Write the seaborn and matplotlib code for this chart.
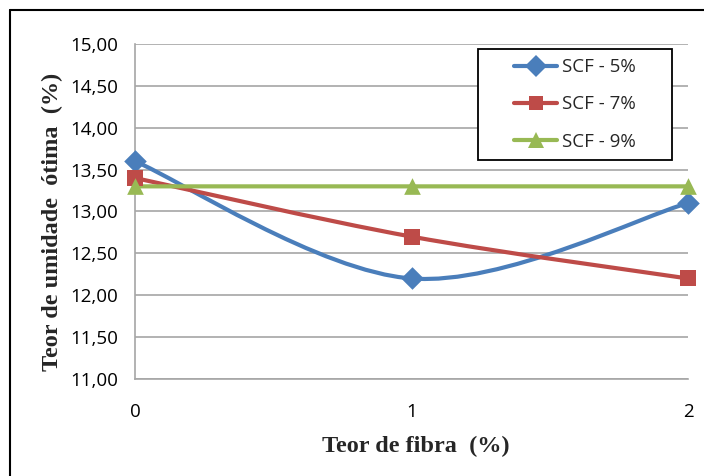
import numpy as np
import pandas as pd
import matplotlib
matplotlib.use("Agg")
import matplotlib.pyplot as plt
from matplotlib.path import Path
from matplotlib.patches import PathPatch, Rectangle
from matplotlib.lines import Line2D
import seaborn as sns

# ---- data ----
fibra = [0, 1, 2]
series_names = ["SCF - 5%", "SCF - 7%", "SCF - 9%"]
scf5 = [13.6, 12.2, 13.1]
scf7 = [13.4, 12.7, 12.2]
scf9 = [13.3, 13.3, 13.3]
y_ticks = [11.0, 11.5, 12.0, 12.5, 13.0, 13.5, 14.0, 14.5, 15.0]
y_ticklabels = ["11,00", "11,50", "12,00", "12,50", "13,00", "13,50", "14,00", "14,50", "15,00"]
x_ticks = [0, 1, 2]

colors = ["#4A7EBB", "#BE4B48", "#98B954"]
markers = ["D", "s", "^"]
msizes = [11.5, 11, 12]

df = pd.DataFrame({
    "fibra": fibra * 3,
    "teor": scf5 + scf7 + scf9,
    "serie": [n for n in series_names for _ in fibra],
})

sns.set_style("white")
plt.rcParams["font.family"] = ["Open Sans", "DejaVu Sans"]

fig = plt.figure(figsize=(7.04, 4.76), dpi=100)
ax = fig.add_axes([0.1918, 0.2038, 0.7855, 0.7038])


def smooth_path(xs, ys):
    pts = np.column_stack([xs, ys]).astype(float)
    n = len(pts)
    verts = [pts[0]]
    codes = [Path.MOVETO]
    for i in range(n - 1):
        p_prev = pts[i - 1] if i > 0 else pts[i]
        p_next2 = pts[i + 2] if i + 2 < n else pts[i + 1]
        c1 = pts[i] + (pts[i + 1] - p_prev) / 6.0
        c2 = pts[i + 1] - (p_next2 - pts[i]) / 6.0
        verts += [c1, c2, pts[i + 1]]
        codes += [Path.CURVE4] * 3
    return Path(verts, codes)


for name, col in zip(series_names, colors):
    sub = df[df["serie"] == name]
    patch = PathPatch(smooth_path(sub["fibra"].values, sub["teor"].values),
                      facecolor="none", edgecolor=col, lw=3.0,
                      capstyle="round", joinstyle="round", zorder=3,
                      clip_on=False)
    ax.add_patch(patch)

for name, col, mk, ms in zip(series_names, colors, markers, msizes):
    sub = df[df["serie"] == name]
    sns.scatterplot(data=sub, x="fibra", y="teor", marker=mk, color=col,
                    s=ms ** 2, edgecolor=col, linewidth=0, ax=ax, zorder=4,
                    clip_on=False, legend=False)

ax.set_xlim(0, 2)
ax.set_ylim(11, 15)
ax.set_yticks(y_ticks)
ax.set_yticklabels(y_ticklabels)
ax.set_xticks(x_ticks)
ax.set_xticklabels([str(v) for v in x_ticks])
ax.tick_params(axis="both", length=0, labelsize=13.5, colors="black")
ax.tick_params(axis="y", pad=12)
ax.tick_params(axis="x", pad=17)

ax.grid(axis="y", color="#A6A6A6", lw=1.2)
ax.grid(axis="x", visible=False)
ax.set_axisbelow(True)
for s in ["top", "right"]:
    ax.spines[s].set_visible(False)
for s in ["left", "bottom"]:
    ax.spines[s].set_color("#A6A6A6")
    ax.spines[s].set_linewidth(1.2)

ax.set_xlabel("Teor de fibra  (%)", family=["Liberation Serif"], weight="bold",
              fontsize=17.5)
ax.set_ylabel("Teor de umidade  ótima  (%)", family=["Liberation Serif"],
              weight="bold", fontsize=17.5)
ax.xaxis.set_label_coords((416 - 135) / 553, -(446 - 379) / 335)
ax.yaxis.set_label_coords(-(135 - 52) / 553, (379 - 222) / 335)
ax.xaxis.label.set_va("center")
ax.yaxis.label.set_va("center")

# legend box (drawn as a plain rectangle) and legend entries
x0, x1 = (478 - 135) / 553, (672 - 135) / 553
y0, y1 = (379 - 160) / 335, (379 - 49) / 335
ax.add_patch(Rectangle((x0, y0), x1 - x0, y1 - y0, transform=ax.transAxes,
                       facecolor="white", edgecolor="black", lw=1.3,
                       zorder=5, clip_on=False))
handles = [Line2D([0], [0], color=c, lw=3.0, marker=m, markersize=s * 0.95,
                  markeredgewidth=0)
           for c, m, s in zip(colors, markers, msizes)]
leg = ax.legend(handles, series_names, loc="center",
                bbox_to_anchor=((x0 + x1) / 2, (y0 + y1) / 2),
                frameon=False, fontsize=13.5, handlelength=2.3,
                handletextpad=0.25, labelspacing=1.02, borderpad=0,
                borderaxespad=0)
leg.set_zorder(6)

# outer chart frame (partially visible)
fig.add_artist(Line2D([10 / 704, 10 / 704], [0, 1 - 10 / 476], color="black",
                      lw=1.5, transform=fig.transFigure))
fig.add_artist(Line2D([10 / 704, 1], [1 - 10 / 476, 1 - 10 / 476],
                      color="black", lw=1.5, transform=fig.transFigure))

fig.savefig("out.png", dpi=100)
